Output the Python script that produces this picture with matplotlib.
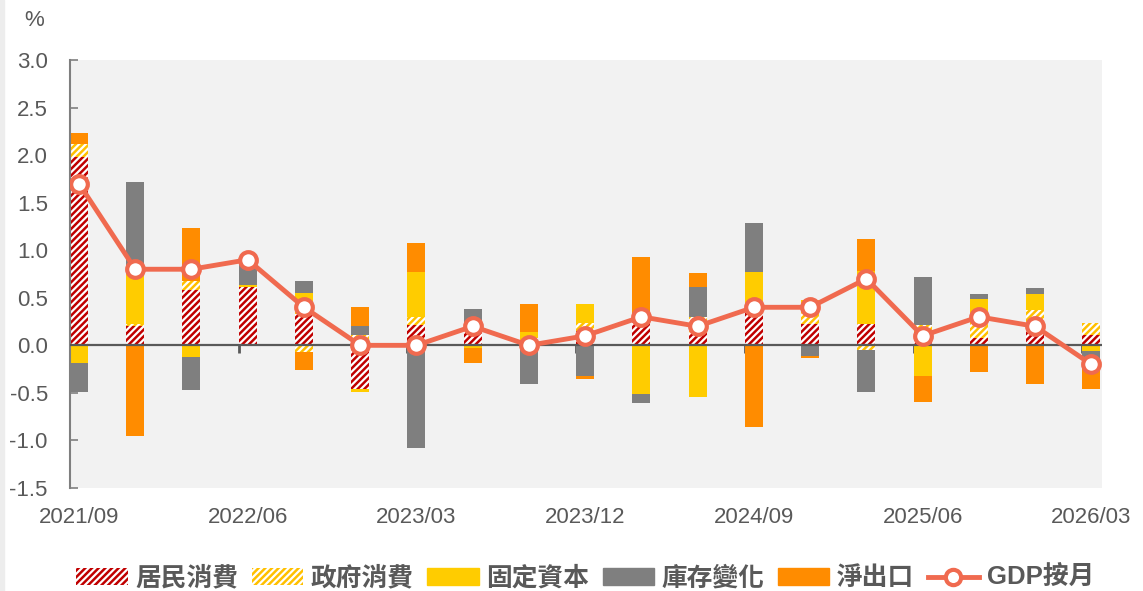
import numpy as np
import matplotlib
matplotlib.use("Agg")
import matplotlib.pyplot as plt
from matplotlib.lines import Line2D
from matplotlib.patches import Patch, Rectangle

plt.rcParams['font.family'] = ['Liberation Sans', 'Noto Sans CJK TC', 'DejaVu Sans']
plt.rcParams['hatch.linewidth'] = 1.8

quarters = ['2021/09', '2021/12', '2022/03', '2022/06', '2022/09', '2022/12',
            '2023/03', '2023/06', '2023/09', '2023/12', '2024/03', '2024/06',
            '2024/09', '2024/12', '2025/03', '2025/06', '2025/09', '2025/12',
            '2026/03']

private = [1.98, 0.20, 0.58, 0.61, 0.33, -0.46, 0.21, 0.18, 0.04, 0.15,
           0.25, 0.13, 0.35, 0.22, 0.22, 0.14, 0.08, 0.15, 0.11]
government = [0.14, 0.02, 0.10, 0.00, -0.07, 0.11, 0.09, 0.00, 0.04, 0.08,
              0.03, 0.17, 0.00, 0.12, -0.05, 0.07, 0.22, 0.22, 0.12]
fixed_capital = [-0.19, 0.54, -0.12, 0.02, 0.22, -0.03, 0.47, -0.03, 0.06, 0.20,
                 -0.51, -0.54, 0.42, 0.14, 0.56, -0.32, 0.19, 0.17, -0.06]
inventory = [-0.30, 0.96, -0.35, 0.27, 0.13, 0.09, -1.08, 0.20, -0.41, -0.32,
             -0.10, 0.31, 0.52, -0.11, -0.44, 0.51, 0.05, 0.06, -0.08]
net_exports = [0.11, -0.95, 0.55, 0.00, -0.19, 0.20, 0.31, -0.16, 0.29, -0.03,
               0.65, 0.15, -0.86, -0.02, 0.34, -0.28, -0.28, -0.41, -0.32]
gdp_qoq = [1.7, 0.8, 0.8, 0.9, 0.4, 0.0, 0.0, 0.2, 0.0, 0.1,
           0.3, 0.2, 0.4, 0.4, 0.7, 0.1, 0.3, 0.2, -0.2]

series_labels = ['居民消費', '政府消費', '固定資本', '庫存變化', '淨出口']
line_label = 'GDP按月'

red = '#C00000'
gold = '#FFC000'
yellow = '#FFCC00'
gray = '#7F7F7F'
orange = '#FF8C00'
coral = '#F06A4F'
text_gray = '#595959'

x = np.arange(len(quarters))
w = 0.32

fig = plt.figure(figsize=(11.43, 5.91), dpi=100)
fig.patches.append(Rectangle((0, 0), 4 / 1143, 1, transform=fig.transFigure,
                             color='#EDEDED', zorder=0))
ax = fig.add_axes([70 / 1143, 1 - 488 / 591, 1032 / 1143, 428 / 591])
ax.set_facecolor('#F2F2F2')

styles = [
    dict(facecolor='white', edgecolor=red, hatch='/////', linewidth=0),
    dict(facecolor='white', edgecolor=gold, hatch='/////', linewidth=0),
    dict(color=yellow, linewidth=0),
    dict(color=gray, linewidth=0),
    dict(color=orange, linewidth=0),
]

pos_bottom = np.zeros(len(x))
neg_bottom = np.zeros(len(x))
for vals, st in zip([private, government, fixed_capital, inventory, net_exports], styles):
    v = np.array(vals)
    bottom = np.where(v >= 0, pos_bottom, neg_bottom)
    ax.bar(x, v, w, bottom=bottom, zorder=2, **st)
    pos_bottom += np.where(v > 0, v, 0)
    neg_bottom += np.where(v < 0, v, 0)

ax.axhline(0, color=text_gray, lw=1.6, zorder=3)
ax.plot(x, gdp_qoq, color=coral, lw=3.5, marker='o', markersize=12,
        markerfacecolor='white', markeredgecolor=coral, markeredgewidth=3, zorder=5)

ax.set_ylim(-1.5, 3.0)
ax.set_xlim(-w / 2, len(x) - 1 + w / 2 + 0.03)
ax.set_yticks(np.arange(-1.5, 3.01, 0.5))
ax.set_yticklabels([f'{t:.1f}' for t in np.arange(-1.5, 3.01, 0.5)])
ax.tick_params(axis='y', direction='in', length=6, width=1.2, color=gray,
               labelsize=16, labelcolor=text_gray, pad=16)

idx = x[::3]
ax.set_xticks(idx)
ax.set_xticklabels([quarters[i] for i in idx])
ax.tick_params(axis='x', length=0, labelsize=16, labelcolor=text_gray, pad=14)

for s in ['top', 'right', 'bottom']:
    ax.spines[s].set_visible(False)
ax.spines['left'].set_color(gray)
ax.spines['left'].set_linewidth(1.5)

sec = ax.secondary_xaxis(1 / 3)
sec.set_xticks(idx - w / 2)
sec.set_xticklabels([])
sec.tick_params(length=6, width=2, color=text_gray, direction='out')
sec.spines['bottom'].set_visible(False)
sec.spines['top'].set_visible(False)

fig.text(24 / 1143, 1 - 20 / 591, '%', fontsize=16, color=text_gray, va='center')

handles = [Patch(**styles[0]), Patch(**styles[1]), Patch(color=yellow),
           Patch(color=gray), Patch(color=orange),
           Line2D([], [], color=coral, lw=3.5, marker='o', markersize=11,
                  markerfacecolor='white', markeredgecolor=coral, markeredgewidth=3)]
leg = fig.legend(handles, series_labels + [line_label], loc='lower center',
                 bbox_to_anchor=(0.512, -0.038), ncol=6, frameon=False,
                 prop={'size': 18.5, 'weight': 'bold'}, handlelength=2.0,
                 handleheight=0.65, handletextpad=0.3, columnspacing=0.52)
for t in leg.get_texts():
    t.set_color(text_gray)

fig.savefig('out.png', dpi=100, facecolor='white')
